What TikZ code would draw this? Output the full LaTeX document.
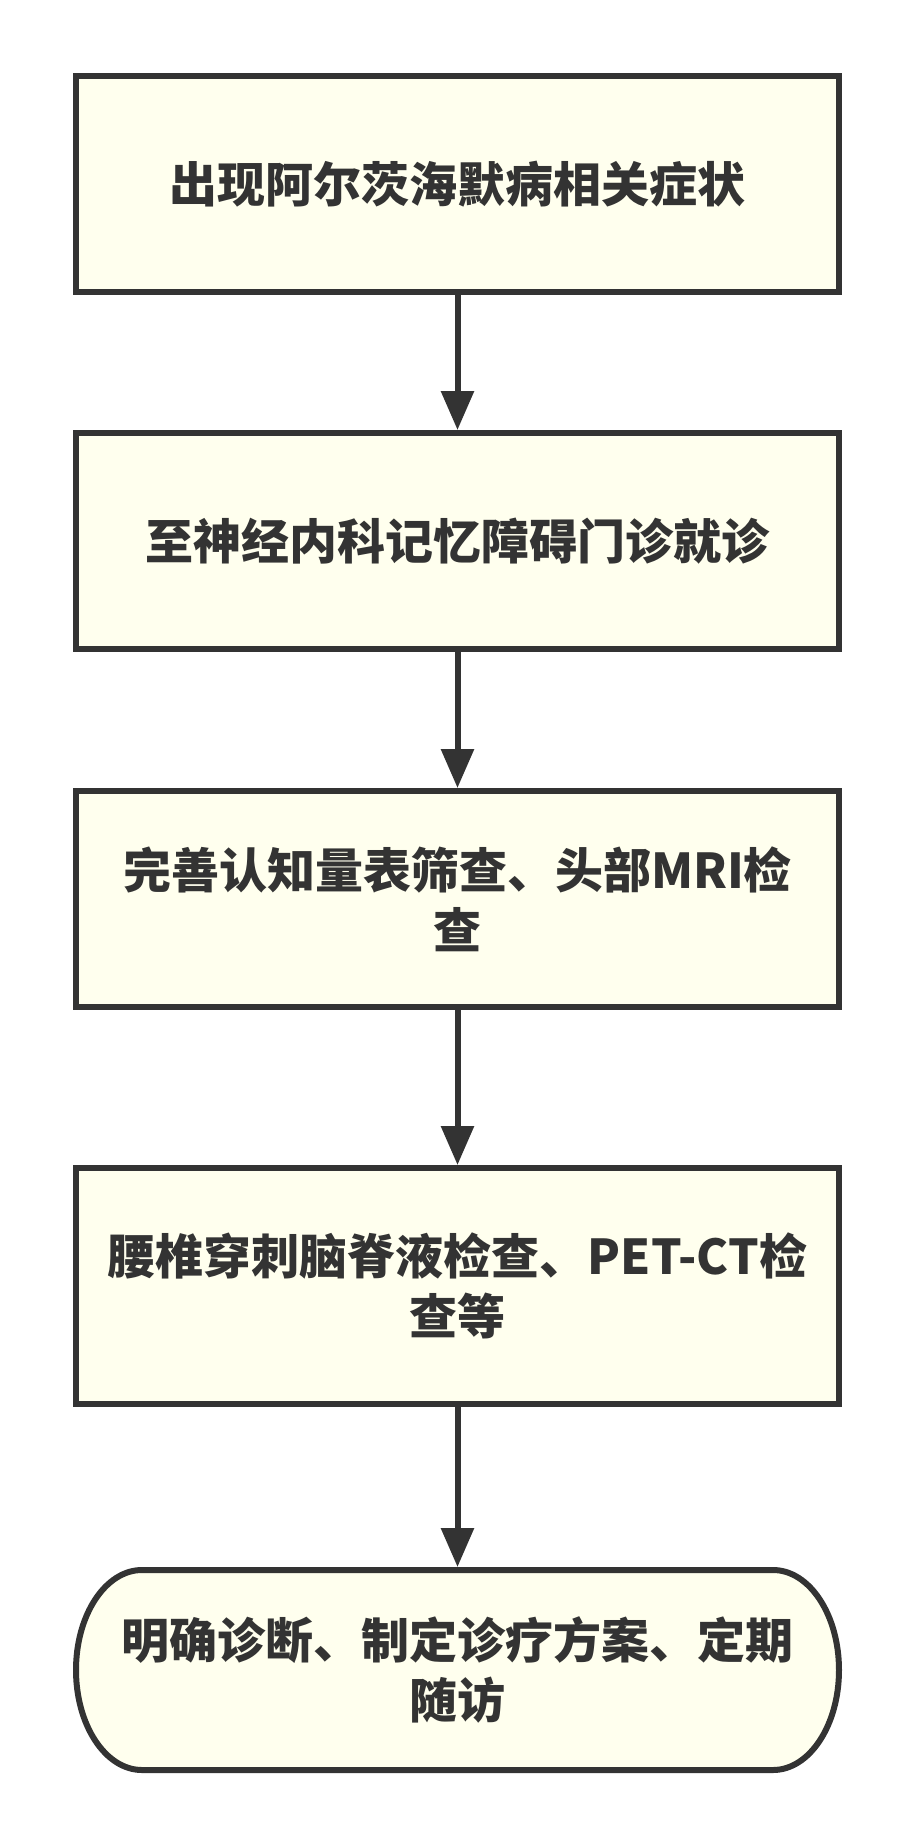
\documentclass[tikz,border=0pt]{standalone}
\usepackage{fontspec}
\newfontfamily\cjk{Noto Sans CJK SC}
\usepackage{tikz}
\usetikzlibrary{positioning,arrows.meta}
\definecolor{ink}{HTML}{333333}
\definecolor{paper}{HTML}{FFFFEE}

\begin{document}
\begin{tikzpicture}[
    x=1pt, y=1pt,
    every node/.style={font=\cjk\bfseries\fontsize{48}{60}\selectfont, text=ink, align=center},
    stepbox/.style={draw=ink, line width=6pt, fill=paper, minimum width=763pt, minimum height=216pt},
    flow/.style={draw=ink, line width=6pt, -{Triangle[length=39pt,width=32pt]}},
  ]
  \useasboundingbox (0,0) rectangle (912,-1848);
  \node[stepbox] (s1) at (457.5,-184) {出现阿尔茨海默病相关症状};
  \node[stepbox, below=135pt of s1] (s2) {至神经内科记忆障碍门诊就诊};
  \node[stepbox, below=136pt of s2] (s3) {完善认知量表筛查、头部MRI检\\查};
  \node[stepbox, minimum height=236pt, below=155pt of s3] (s4) {腰椎穿刺脑脊液检查、PET-CT检\\查等};
  \node[minimum width=763pt, minimum height=200pt, outer sep=0pt, below=163pt of s4] (s5) {};
  \draw[ink, line width=6pt, fill=paper] ([xshift=66pt]s5.north west) -- ([xshift=-66pt]s5.north east)
    arc[start angle=90, end angle=-90, x radius=66pt, y radius=100pt]
    -- ([xshift=66pt]s5.south west)
    arc[start angle=270, end angle=90, x radius=66pt, y radius=100pt] -- cycle;
  \node at (s5) {明确诊断、制定诊疗方案、定期\\随访};
  \draw[flow] (s1) -- (s2);
  \draw[flow] (s2) -- (s3);
  \draw[flow] (s3) -- (s4);
  \draw[flow] (s4) -- ([yshift=3pt]s5.north);
\end{tikzpicture}
\end{document}
